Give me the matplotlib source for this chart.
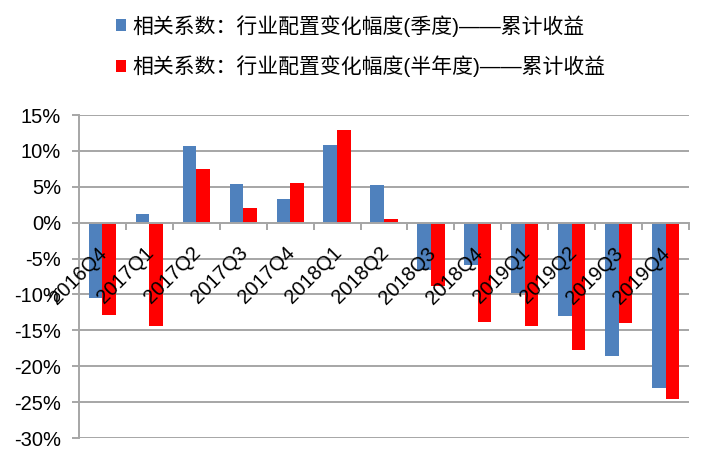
"""Bar chart: correlation of industry allocation change vs cumulative return."""

import matplotlib

matplotlib.use("Agg")
import matplotlib.pyplot as plt
from matplotlib.patches import Patch
from matplotlib.ticker import FixedLocator, FuncFormatter
from matplotlib.transforms import ScaledTranslation
import numpy as np

plt.rcParams["font.family"] = ["Liberation Sans", "DejaVu Sans"]

quarters = ["2016Q4", "2017Q1", "2017Q2", "2017Q3", "2017Q4", "2018Q1", "2018Q2",
            "2018Q3", "2018Q4", "2019Q1", "2019Q2", "2019Q3", "2019Q4"]
quarterly = [-10.5, 1.2, 10.7, 5.4, 3.3, 10.8, 5.2, -6.6, -5.9, -9.8, -13.0, -18.6, -23.0]
half_year = [-12.8, -14.4, 7.5, 2.1, 5.5, 12.9, 0.5, -8.8, -13.8, -14.4, -17.7, -14.0, -24.5]
y_ticks = [15, 10, 5, 0, -5, -10, -15, -20, -25, -30]

label_q = "相关系数：行业配置变化幅度(季度)——累计收益"
label_h = "相关系数：行业配置变化幅度(半年度)——累计收益"

BLUE = "#4F81BD"
RED = "#FF0000"
GRID = "#A6A6A6"

fig = plt.figure(figsize=(7.02, 4.53), dpi=100)
ax = fig.add_axes([79 / 702, 1 - 438 / 453, 610 / 702, 323 / 453])

x = np.arange(len(quarters))
w = 0.29
ax.bar(x - w / 2, quarterly, width=w, color=BLUE, zorder=2)
ax.bar(x + w / 2, half_year, width=w, color=RED, zorder=2)

ax.set_xlim(-0.5, len(quarters) - 0.5)
ax.set_ylim(-30, 15)
# keep tick labels above the bars; grid lines drawn separately underneath
ax.set_axisbelow(False)

for yv in y_ticks:
    ax.axhline(yv, color=GRID, lw=1.4, zorder=0.5)

for side in ["top", "right"]:
    ax.spines[side].set_visible(False)
ax.spines["left"].set_color(GRID)
ax.spines["left"].set_linewidth(1.4)
ax.spines["bottom"].set_position(("data", 0))
ax.spines["bottom"].set_color(GRID)
ax.spines["bottom"].set_linewidth(1.4)

ax.set_yticks(y_ticks)
ax.yaxis.set_major_formatter(FuncFormatter(lambda v, _: f"{v:.0f}%"))
ax.tick_params(axis="y", length=5, width=1.4, color=GRID, pad=8, labelsize=14.5)

ax.set_xticks(x)
ax.set_xticklabels(quarters, rotation=45, ha="right", rotation_mode="anchor", fontsize=14.5)
ax.xaxis.set_minor_locator(FixedLocator(np.arange(-0.5, len(quarters), 1)))
ax.tick_params(axis="x", which="major", length=0, pad=15)
ax.tick_params(axis="x", which="minor", length=5, width=1.4, color=GRID, direction="out")
shift = ScaledTranslation(-0.05, 0, fig.dpi_scale_trans)
for lbl in ax.get_xticklabels():
    lbl.set_transform(lbl.get_transform() + shift)

handles = [Patch(facecolor=BLUE, edgecolor="none"), Patch(facecolor=RED, edgecolor="none")]
fig.legend(handles, [label_q, label_h], loc="upper left",
           bbox_to_anchor=(116 / 702, 1 - 15 / 453), frameon=False,
           prop={"family": ["Liberation Sans", "Noto Sans CJK SC"], "size": 15},
           handlelength=0.5, handleheight=0.5, handletextpad=0.3,
           labelspacing=0.9, borderpad=0, borderaxespad=0)

plt.savefig("out.png", dpi=100)
plt.close(fig)
